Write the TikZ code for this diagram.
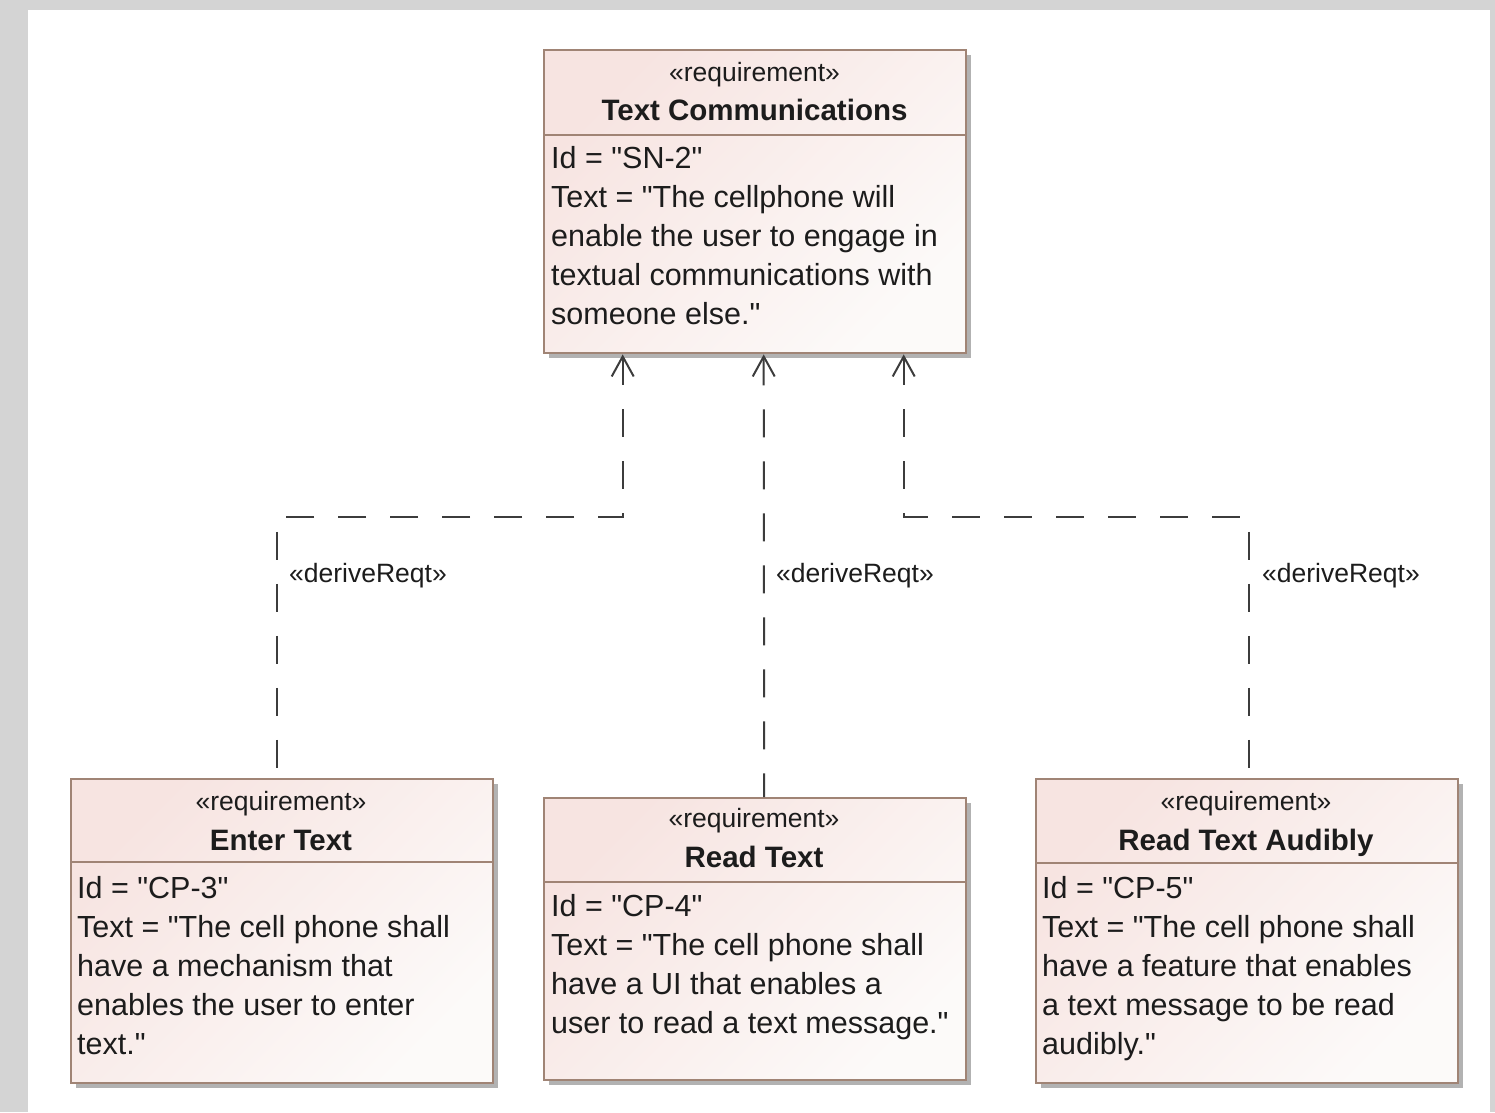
\documentclass[tikz,border=0pt]{standalone}
\usepackage{fontspec}
\setmainfont{Liberation Sans}[Ligatures=TeXOff]
\usetikzlibrary{arrows.meta,shadows,calc}

\definecolor{reqpink}{RGB}{247,228,225}
\definecolor{reqpale}{RGB}{252,250,249}
\definecolor{reqedge}{RGB}{160,132,117}
\definecolor{wire}{RGB}{60,60,60}
\definecolor{framegray}{RGB}{212,212,212}
\definecolor{ink}{RGB}{28,28,28}

\newcommand\reqstereo{\fontsize{26.5}{30}\selectfont}
\newcommand\reqtitle{\fontsize{29.5}{34}\selectfont\bfseries}
\newcommand\reqbody{\fontsize{30.5}{39}\selectfont}

\begin{document}
\begin{tikzpicture}[x=1pt,y=-1pt,
  reqbox/.style={draw=reqedge, line width=2.4pt, inner sep=0pt,
    left color=reqpink, right color=reqpale, shading angle=45,
    drop shadow={shadow xshift=5pt, shadow yshift=-5pt, fill=black, opacity=0.3},
    anchor=north west},
  divider/.style={draw=reqedge, line width=2.2pt},
  stereo/.style={font=\reqstereo, text=ink, inner sep=0pt, anchor=base},
  rtitle/.style={font=\reqtitle, text=ink, inner sep=0pt, anchor=base},
  rbody/.style={font=\reqbody, text=ink, inner sep=0pt, align=left, anchor=north west},
  derive/.style={draw=wire, line width=2pt, dash pattern=on 28pt off 24pt,
    {Straight Barb[length=20pt, width=22pt, line width=2pt]}-},
  dlabel/.style={font=\reqstereo, text=ink, inner sep=0pt, anchor=base west}
]
\useasboundingbox (0,0) rectangle (1495,1112);

% window frame and white canvas
\fill[framegray] (0,0) rectangle (1495,1112);
\fill[white] (28,10) rectangle (1490,1112);

% ---- requirement blocks ----
\node[reqbox, minimum width=422pt, minimum height=303pt] (sn2) at (543,49) {};
\draw[divider] ([yshift=-86pt]sn2.north west) -- ([yshift=-86pt]sn2.north east);
\node[stereo] (sn2-st) at (754.5,81) {«requirement»};
\node[rtitle] (sn2-t) at (754.5,120) {Text Communications};
\node[rbody] (sn2-b) at (551,140.7) {\strut Id = "SN-2"\\
Text = "The cellphone will\\
enable the user to engage in\\
textual communications with\\
someone else."};

\node[reqbox, minimum width=422pt, minimum height=304pt] (cp3) at (70,778) {};
\draw[divider] ([yshift=-84pt]cp3.north west) -- ([yshift=-84pt]cp3.north east);
\node[stereo] (cp3-st) at (281,810) {«requirement»};
\node[rtitle] (cp3-t) at (281,850) {Enter Text};
\node[rbody] (cp3-b) at (77,870.7) {\strut Id = "CP-3"\\
Text = "The cell phone shall\\
have a mechanism that\\
enables the user to enter\\
text."};

\node[reqbox, minimum width=422pt, minimum height=282pt] (cp4) at (543,797) {};
\draw[divider] ([yshift=-85pt]cp4.north west) -- ([yshift=-85pt]cp4.north east);
\node[stereo] (cp4-st) at (754,827) {«requirement»};
\node[rtitle] (cp4-t) at (754,867) {Read Text};
\node[rbody] (cp4-b) at (551,889.4) {\strut Id = "CP-4"\\
Text = "The cell phone shall\\
have a UI that enables a\\
user to read a text message."};

\node[reqbox, minimum width=422pt, minimum height=304pt] (cp5) at (1035,778) {};
\draw[divider] ([yshift=-85pt]cp5.north west) -- ([yshift=-85pt]cp5.north east);
\node[stereo] (cp5-st) at (1246,810) {«requirement»};
\node[rtitle] (cp5-t) at (1246,850) {Read Text Audibly};
\node[rbody] (cp5-b) at (1042,870.7) {\strut Id = "CP-5"\\
Text = "The cell phone shall\\
have a feature that enables\\
a text message to be read\\
audibly."};

% ---- deriveReqt connectors (drawn from the arrow end) ----
\coordinate (bend) at (0,517);
\coordinate (sn2-l) at ([xshift=-132.5pt]sn2.south);
\coordinate (sn2-m) at ([xshift=8.5pt]sn2.south);
\coordinate (sn2-r) at ([xshift=148.5pt]sn2.south);
\coordinate (cp3-in) at ([xshift=-5pt]cp3.north);
\coordinate (cp4-in) at ([xshift=9pt]cp4.north);
\coordinate (cp5-in) at ([xshift=2pt]cp5.north);

\draw[derive] (sn2-l) |- (cp3-in |- bend) -- (cp3-in);
\draw[derive] (sn2-m) -- (cp4-in);
\draw[derive] (sn2-r) |- (cp5-in |- bend) -- (cp5-in);

\node[dlabel] (d3) at (289,582) {«deriveReqt»};
\node[dlabel] (d4) at (776,582) {«deriveReqt»};
\node[dlabel] (d5) at (1262,582) {«deriveReqt»};
\end{tikzpicture}
\end{document}
